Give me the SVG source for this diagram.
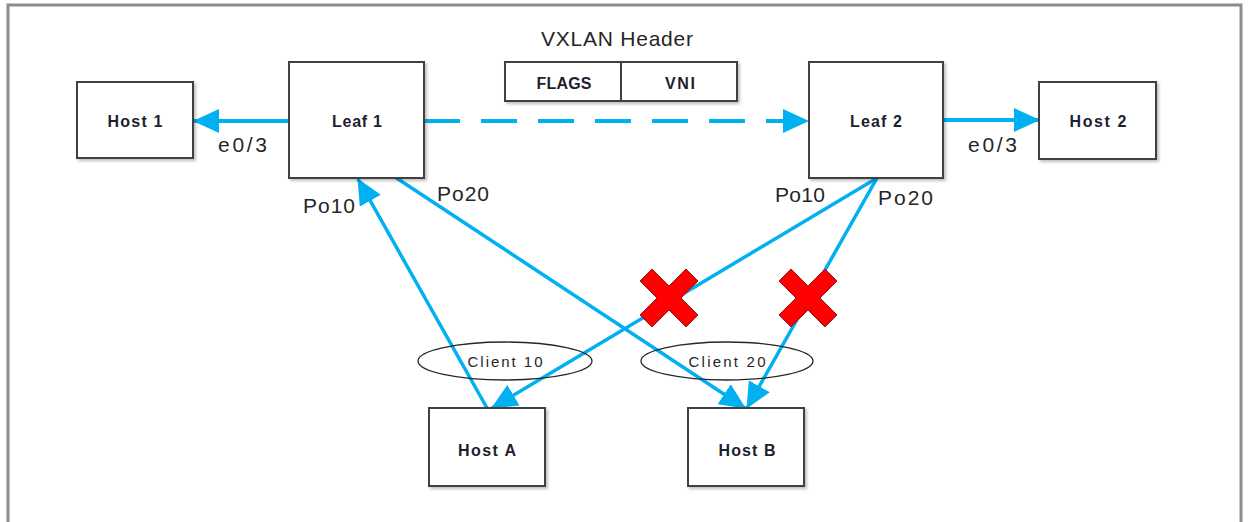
<svg xmlns="http://www.w3.org/2000/svg" width="1249" height="522" viewBox="0 0 1249 522">
<style>
.box{fill:#fff;stroke:#3f3f3f;stroke-width:2}
.nt{font-family:"Liberation Sans",Arial,sans-serif;font-size:16px;font-weight:bold;fill:#1e1e2e;text-anchor:middle}
.lb{font-family:"Liberation Sans",Arial,sans-serif;font-size:21px;fill:#262626}
.cl{font-family:"Liberation Sans",Arial,sans-serif;font-size:15px;fill:#262626;text-anchor:middle}
.ln{stroke:#00b0f0;stroke-width:4;fill:none}
.dg{stroke:#00b0f0;stroke-width:3.5;fill:none}
.xm{fill:#ff0000;stroke:#8b1a1a;stroke-width:1}
</style>
<defs>
<marker id="ah" markerUnits="userSpaceOnUse" markerWidth="26" markerHeight="24" viewBox="0 0 26 24" refX="25" refY="12" orient="auto">
<path d="M0,0 L26,12 L0,24 z" fill="#00b0f0"/>
</marker>
<filter id="sh" x="-10%" y="-10%" width="130%" height="130%">
<feDropShadow dx="2" dy="2" stdDeviation="1.5" flood-color="#000" flood-opacity="0.25"/>
</filter>
</defs>
<rect x="8" y="5" width="1233" height="540" fill="#fff" stroke="#8c8c8c" stroke-width="3"/>

<text class="lb" x="541" y="46" textLength="152" lengthAdjust="spacing">VXLAN Header</text>
<g id="vxlan-header">
<rect class="box" x="505" y="62" width="232" height="39" filter="url(#sh)"/>
<line x1="621" y1="62" x2="621" y2="101" stroke="#3f3f3f" stroke-width="2"/>
<text class="nt" x="564" y="89" textLength="55" lengthAdjust="spacing">FLAGS</text>
<text class="nt" x="680" y="89" textLength="30" lengthAdjust="spacing">VNI</text>
</g>

<g id="connectors">
<line class="ln" x1="289" y1="121" x2="194" y2="121" marker-end="url(#ah)"/>
<line class="ln" x1="424" y1="121" x2="808" y2="121" stroke-dasharray="36 21" marker-end="url(#ah)"/>
<line class="ln" x1="943" y1="120" x2="1039" y2="120" marker-end="url(#ah)"/>
<line class="dg" x1="487" y1="408" x2="358" y2="179" marker-end="url(#ah)"/>
<line class="dg" x1="395" y1="177" x2="745" y2="408" marker-end="url(#ah)"/>
<line class="dg" x1="877" y1="178" x2="492" y2="408" marker-end="url(#ah)"/>
<line class="dg" x1="877" y1="178" x2="747" y2="408" marker-end="url(#ah)"/>
</g>

<g id="host1">
<rect class="box" x="77" y="82" width="116" height="76" filter="url(#sh)"/>
<text class="nt" x="135" y="127" textLength="55" lengthAdjust="spacing">Host 1</text>
</g>
<g id="leaf1">
<rect class="box" x="289" y="62" width="135" height="116" filter="url(#sh)"/>
<text class="nt" x="357" y="127" textLength="50" lengthAdjust="spacing">Leaf 1</text>
</g>
<g id="leaf2">
<rect class="box" x="809" y="62" width="134" height="116" filter="url(#sh)"/>
<text class="nt" x="876" y="127" textLength="52" lengthAdjust="spacing">Leaf 2</text>
</g>
<g id="host2">
<rect class="box" x="1039" y="82" width="117" height="77" filter="url(#sh)"/>
<text class="nt" x="1098" y="127" textLength="57" lengthAdjust="spacing">Host 2</text>
</g>
<g id="hostA">
<rect class="box" x="429" y="408" width="116" height="78" filter="url(#sh)"/>
<text class="nt" x="487" y="456" textLength="58" lengthAdjust="spacing">Host A</text>
</g>
<g id="hostB">
<rect class="box" x="688" y="408" width="116" height="78" filter="url(#sh)"/>
<text class="nt" x="747" y="456" textLength="57" lengthAdjust="spacing">Host B</text>
</g>

<g id="client10">
<ellipse cx="505" cy="361" rx="87" ry="19" fill="none" stroke="#262626" stroke-width="1.3"/>
<text class="cl" x="505" y="367" textLength="75" lengthAdjust="spacing">Client 10</text>
</g>
<g id="client20">
<ellipse cx="727" cy="361" rx="86" ry="19" fill="none" stroke="#262626" stroke-width="1.3"/>
<text class="cl" x="727" y="367" textLength="77" lengthAdjust="spacing">Client 20</text>
</g>

<g id="x1" transform="translate(669,298)">
<polygon class="xm" points="-29,-17 -17,-29 0,-12 17,-29 29,-17 12,0 29,17 17,29 0,12 -17,29 -29,17 -12,0"/>
</g>
<g id="x2" transform="translate(808,298)">
<polygon class="xm" points="-29,-17 -17,-29 0,-12 17,-29 29,-17 12,0 29,17 17,29 0,12 -17,29 -29,17 -12,0"/>
</g>

<g id="labels">
<text class="lb" x="218" y="152" textLength="49" lengthAdjust="spacing">e0/3</text>
<text class="lb" x="968" y="152" textLength="49" lengthAdjust="spacing">e0/3</text>
<text class="lb" x="303" y="213" textLength="52" lengthAdjust="spacing">Po10</text>
<text class="lb" x="437" y="201" textLength="52" lengthAdjust="spacing">Po20</text>
<text class="lb" x="775" y="202" textLength="50" lengthAdjust="spacing">Po10</text>
<text class="lb" x="878" y="205" textLength="55" lengthAdjust="spacing">Po20</text>
</g>
</svg>
